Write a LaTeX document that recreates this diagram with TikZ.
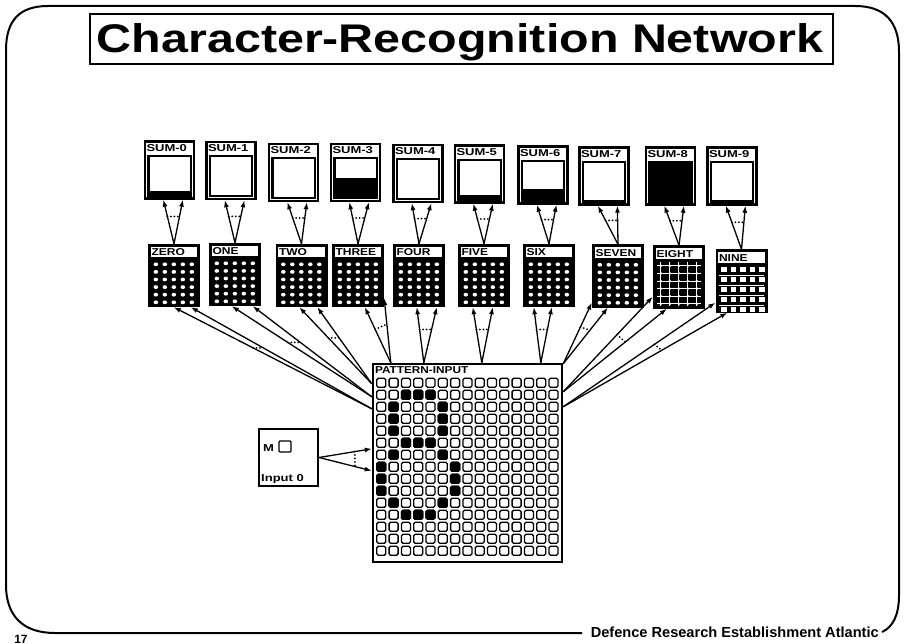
\documentclass[tikz,border=0pt]{standalone}
\usepackage{fontspec}
\usepackage{graphicx}
\setmainfont{Liberation Sans}
\usetikzlibrary{arrows.meta,calc}
\newcommand{\wt}[2][1.3]{\scalebox{#1}[1]{#2}}
\newcommand{\SumBox}[5]{%
  \node[sumbox] (#1) at (#2,#3) {};
  \node[lbl, anchor=west] at ($(#1.north west)+(2.5,7.5)$) {\wt{#4}};
  \coordinate (#1a) at ($(#1.north west)+(4.5,15.5)$);
  \coordinate (#1b) at ($(#1.south east)+(-4.5,-4)$);
  \fill ($(#1a |- #1b)$) rectangle ($(#1b)!#5!(#1a -| #1b)$);
  \draw[line width=2.4pt] (#1a) rectangle (#1b);
}
\newcommand{\DigBox}[5]{%
  \node[digbox] (#1) at (#2,#3) {};
  \fill[white] ($(#1.north west)+(3,3)$) rectangle ($(#1.north east)+(-3,13.5)$);
  \node[lbl, anchor=west] at ($(#1.north west)+(3.5,8.5)$) {\wt[1.2]{#4}};
  \ifcase#5
    \foreach \i in {0,...,4} \foreach \j in {0,...,5}
      \fill[white] ($(#1.north west)+(8+\i*9,20.5+\j*7.6)$) ellipse (2.3pt and 1.9pt);
  \or
    \foreach \i in {0,...,4}
      \draw[white, line width=0.9pt] ($(#1.north west)+(8+\i*9,17)$) -- ($(#1.north west)+(8+\i*9,61)$);
    \foreach \j in {0,...,5}
      \draw[white, line width=0.9pt] ($(#1.north west)+(4,20.5+\j*7.6)$) -- ($(#1.north west)+(48,20.5+\j*7.6)$);
    \foreach \i in {0,...,4} \foreach \j in {0,...,5}
      \fill[white] ($(#1.north west)+(8+\i*9,20.5+\j*7.6)$) circle (1.4pt);
  \or
    \foreach \j in {0,...,3}
      \draw[white, line width=0.9pt] ($(#1.north west)+(4,26+\j*10)$) -- ($(#1.north west)+(49,26+\j*10)$);
    \foreach \i in {0,...,4} \foreach \j in {0,...,4}
      \fill[white] ($(#1.north west)+(6+\i*9.5,17.5+\j*10)$) rectangle +(5.5,5.5);
  \fi
}
\begin{document}
\begin{tikzpicture}[x=1pt,y=-1pt,
  frame/.style={line width=2pt, line join=round},
  sumbox/.style={draw, line width=2.4pt, minimum width=49pt, minimum height=57pt, inner sep=0pt, fill=white},
  digbox/.style={fill=black, minimum width=52pt, minimum height=63pt, inner sep=0pt},
  lbl/.style={font=\fontsize{10}{10}\selectfont\bfseries, inner sep=0pt},
  conn/.style={line width=1.3pt, -{Latex[length=7pt,width=5pt]}},
  wdots/.style={line width=2pt, dash pattern=on 0pt off 3.5pt, line cap=round},
  cellsq/.style={line width=1.3pt, rounded corners=1.5pt},
]
\useasboundingbox (0,0) rectangle (904,644);
\fill[white] (0,0) rectangle (904,644);

% outer frame
\draw[frame] (582,633) -- (55,633) .. controls (22,633) and (6,615) .. (6,585) -- (6,50)
  .. controls (6,20) and (20,6) .. (48,6) -- (855,6) .. controls (885,6) and (899,22) .. (899,52)
  -- (899,595) .. controls (899,615) and (893,627) .. (882,632);
\node[font=\fontsize{14.6}{15}\selectfont\bfseries, anchor=east, inner sep=1pt] (foot) at (880,632.5) {Defence Research Establishment Atlantic};
\node[font=\fontsize{12}{12}\selectfont\bfseries, inner sep=0pt] (pg) at (21,639) {17};

% title
\node[draw, line width=2pt, minimum width=743pt, minimum height=50pt, inner sep=0pt] (title) at (461,39) {};
\node[font=\fontsize{40}{40}\selectfont\bfseries, inner sep=0pt] (titletxt) at (460,42) {\wt[1.21]{Character-Recognition Network}};

% sum boxes
\SumBox{s0}{169.5}{170}{SUM-0}{0.12}
\SumBox{s1}{231}{170.5}{SUM-1}{0}
\SumBox{s2}{293.5}{172.5}{SUM-2}{0}
\SumBox{s3}{355.5}{172.5}{SUM-3}{0.5}
\SumBox{s4}{418}{173.5}{SUM-4}{0}
\SumBox{s5}{479.5}{174}{SUM-5}{0.12}
\SumBox{s6}{543}{175}{SUM-6}{0.3}
\SumBox{s7}{604}{176}{SUM-7}{0}
\SumBox{s8}{670.5}{176}{SUM-8}{1}
\SumBox{s9}{732}{176}{SUM-9}{0}

% digit boxes
\DigBox{d0}{174}{275.5}{ZERO}{0}
\DigBox{d1}{235}{274.5}{ONE}{0}
\DigBox{d2}{301.5}{275.5}{TWO}{0}
\DigBox{d3}{358}{275.5}{THREE}{0}
\DigBox{d4}{419}{275.5}{FOUR}{0}
\DigBox{d5}{484}{275.5}{FIVE}{0}
\DigBox{d6}{549}{275.5}{SIX}{0}
\DigBox{d7}{618}{276}{SEVEN}{0}
\DigBox{d8}{679}{277}{EIGHT}{1}
\DigBox{d9}{741.5}{281}{NINE}{2}

% digit -> sum connections
\foreach \k in {0,...,9} {
  \coordinate (sa\k) at ($(s\k.south west)!0.38!(s\k.south east)$);
  \coordinate (sb\k) at ($(s\k.south west)!0.76!(s\k.south east)$);
  \draw[conn] (d\k.north) -- (sa\k);
  \draw[conn] (d\k.north) -- (sb\k);
  \draw[wdots] ($(d\k.north)!0.62!(sa\k)$) -- ($(d\k.north)!0.62!(sb\k)$);
}

% pattern input
\node[draw, line width=2.4pt, minimum width=189pt, minimum height=198pt, inner sep=0pt] (pi) at (467.5,463) {};
\node[lbl, anchor=west] at ($(pi.north west)+(3,7.5)$) {\wt[1.18]{PATTERN-INPUT}};
\foreach \r in {0,...,14} \foreach \c in {0,...,14}
  \draw[cellsq, fill=white] ($(pi.north west)+(5+\c*12.3,15.5+\r*12)$) rectangle +(9,9);
\foreach \r/\c in {1/2,1/3,1/4, 2/1,2/5, 3/1,3/5, 4/1,4/5, 5/2,5/3,5/4, 6/1,6/5,
                   7/0,7/6, 8/0,8/6, 9/0,9/6, 10/1,10/5, 11/2,11/3,11/4}
  \draw[cellsq, fill=black] ($(pi.north west)+(5+\c*12.3,15.5+\r*12)$) rectangle +(9,9);

% pattern -> digit connections
\coordinate (p0) at ($(pi.north west)+(0,46)$);
\coordinate (p1) at ($(pi.north west)+(0,34)$);
\coordinate (p2) at ($(pi.north west)+(0,21)$);
\coordinate (p3) at ($(pi.north west)+(19,0)$);
\coordinate (p4) at ($(pi.north west)+(52,0)$);
\coordinate (p5) at ($(pi.north west)+(110,0)$);
\coordinate (p6) at ($(pi.north west)+(169,0)$);
\coordinate (p7) at ($(pi.north east)+(0,1)$);
\coordinate (p8) at ($(pi.north east)+(0,29)$);
\coordinate (p9) at ($(pi.north east)+(0,44)$);

\coordinate (ta0) at ($(d0.south west)+(26,0)$);  \coordinate (tb0) at ($(d0.south west)+(43,0)$);
\coordinate (ta1) at ($(d1.south west)+(23,0)$);  \coordinate (tb1) at ($(d1.south west)+(44,0)$);
\coordinate (ta2) at ($(d2.south west)+(24,0)$);  \coordinate (tb2) at ($(d2.south west)+(42,0)$);
\coordinate (ta3) at ($(d3.south west)+(33,0)$);  \coordinate (tb3) at ($(d3.south east)+(0,-9)$);
\coordinate (ta4) at ($(d4.south west)+(24,0)$);  \coordinate (tb4) at ($(d4.south west)+(44,0)$);
\coordinate (ta5) at ($(d5.south west)+(15,0)$);  \coordinate (tb5) at ($(d5.south west)+(35,0)$);
\coordinate (ta6) at ($(d6.south west)+(11,0)$);  \coordinate (tb6) at ($(d6.south west)+(29,0)$);
\coordinate (ta7) at ($(d7.south west)+(0,-5)$);  \coordinate (tb7) at ($(d7.south west)+(16,0)$);
\coordinate (ta8) at ($(d8.south west)+(0,-12)$); \coordinate (tb8) at ($(d8.south west)+(14,0)$);
\coordinate (ta9) at ($(d9.south west)+(0,-10)$); \coordinate (tb9) at ($(d9.south west)+(12,0)$);

\foreach \k in {0,...,9} {
  \draw[conn] (p\k) -- (ta\k);
  \draw[conn] (p\k) -- (tb\k);
  \draw[wdots] ($(p\k)!0.6!(ta\k)$) -- ($(p\k)!0.6!(tb\k)$);
}

% input box
\node[draw, line width=2pt, minimum width=59pt, minimum height=57pt, inner sep=0pt] (inp) at (288.5,457.5) {};
\node[lbl, anchor=west] (m) at ($(inp.north west)+(5,20)$) {\wt{M}};
\draw[line width=1.3pt, rounded corners=1pt] ($(inp.north west)+(21,13)$) rectangle +(12,11);
\node[lbl, anchor=west] (inl) at ($(inp.south west)+(3,-8)$) {\wt{Input 0}};
\coordinate (ia) at ($(pi.north west)+(0,86)$);
\coordinate (ib) at ($(pi.north west)+(0,108)$);
\draw[conn] (inp.east) -- (ia);
\draw[conn] (inp.east) -- (ib);
\draw[wdots] ($(inp.east)!0.68!(ia)$) -- ($(inp.east)!0.68!(ib)$);
\end{tikzpicture}
\end{document}
